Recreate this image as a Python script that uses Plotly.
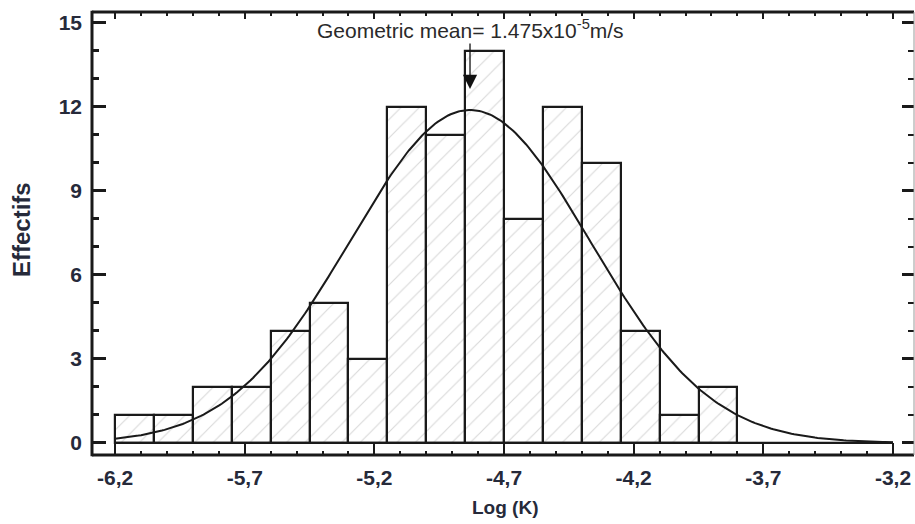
import numpy as np
import plotly.graph_objects as go

# ---- data ----
bin_start = -6.2
bin_width = 0.15
counts = [1, 1, 2, 2, 4, 5, 3, 12, 11, 14, 8, 12, 10, 4, 1, 2]

geo_mean_ms = 1.475e-5                 # geometric mean of K (m/s)
fit_mean = np.log10(geo_mean_ms)       # mean of log(K)
fit_sigma = 0.463
curve_start, curve_end = -6.2, -3.2

x_tickvals = [-6.2, -5.7, -5.2, -4.7, -4.2, -3.7, -3.2]
x_ticktext = ["-6,2", "-5,7", "-5,2", "-4,7", "-4,2", "-3,7", "-3,2"]
y_tickvals = [0, 3, 6, 9, 12, 15]

x_range = [-6.289, -3.119]
y_range = [-0.43, 15.39]

# ---- derived ----
bin_centers = [bin_start + bin_width * (i + 0.5) for i in range(len(counts))]
n_total = sum(counts)
xc = np.linspace(curve_start, curve_end, 300)
yc = n_total * bin_width / (fit_sigma * np.sqrt(2 * np.pi)) * np.exp(-0.5 * ((xc - fit_mean) / fit_sigma) ** 2)

ink = "#1a1a1a"
label_col = "#262a3a"
sans = "Liberation Sans, Arial, sans-serif"
tick_font = dict(family=sans, size=21, color=label_col, weight="bold")

fig = go.Figure()
fig.add_trace(go.Bar(
    x=bin_centers, y=counts, width=bin_width,
    marker=dict(color="white",
                line=dict(color=ink, width=2.2),
                pattern=dict(shape="/", fgcolor="#b4b4b4", bgcolor="white", size=13, solidity=0.09)),
    showlegend=False, hoverinfo="skip",
))
fig.add_trace(go.Scatter(
    x=xc, y=yc, mode="lines", line=dict(color=ink, width=2),
    showlegend=False, hoverinfo="skip",
))
# helper (invisible) trace for the mirrored top/right axes
fig.add_trace(go.Scatter(
    x=bin_centers, y=counts, xaxis="x2", yaxis="y2", mode="markers",
    marker=dict(opacity=0), showlegend=False, hoverinfo="skip",
))

fig.update_layout(
    width=915, height=524,
    margin=dict(l=92, r=1, t=12, b=69),
    paper_bgcolor="white", plot_bgcolor="white",
    bargap=0,
    xaxis=dict(range=x_range, showgrid=False, zeroline=False, showline=False,
               tickmode="array", tickvals=x_tickvals, ticktext=x_ticktext,
               ticks="inside", ticklen=12, tickwidth=2, tickcolor=ink,
               minor=dict(dtick=0.1, tick0=-6.2, ticks="inside", ticklen=4, tickwidth=2, tickcolor=ink),
               tickfont=tick_font, ticklabelstandoff=8),
    yaxis=dict(range=y_range, showgrid=False, zeroline=False, showline=False,
               tickmode="array", tickvals=y_tickvals,
               ticks="inside", ticklen=14, tickwidth=3, tickcolor=ink,
               minor=dict(dtick=1, tick0=0, ticks="inside", ticklen=7, tickwidth=2.5, tickcolor=ink),
               tickfont=tick_font, ticklabelstandoff=9),
    xaxis2=dict(overlaying="x", side="top", range=x_range, showgrid=False, zeroline=False,
                showline=False, showticklabels=False,
                tickmode="array", tickvals=x_tickvals,
                ticks="inside", ticklen=7, tickwidth=2, tickcolor=ink,
                minor=dict(dtick=0.1, tick0=-6.2, ticks="inside", ticklen=4, tickwidth=2, tickcolor=ink)),
    yaxis2=dict(overlaying="y", side="right", range=y_range, showgrid=False, zeroline=False,
                showline=False, showticklabels=False,
                tickmode="array", tickvals=y_tickvals,
                ticks="inside", ticklen=12, tickwidth=2.5, tickcolor=ink,
                minor=dict(dtick=1, tick0=0, ticks="inside", ticklen=6, tickwidth=2, tickcolor=ink)),
    shapes=[
        dict(type="line", xref="paper", yref="paper", x0=0, x1=0, y0=-0.003, y1=1.003, line=dict(color=ink, width=3)),
        dict(type="line", xref="paper", yref="paper", x0=0, x1=1, y0=0, y1=0, line=dict(color=ink, width=3)),
        dict(type="line", xref="paper", yref="paper", x0=0, x1=1, y0=1, y1=1, line=dict(color=ink, width=3)),
        dict(type="line", xref="paper", yref="paper", x0=1, x1=1, y0=0, y1=1, line=dict(color="#9a9a9a", width=1)),
        dict(type="line", xref="x", yref="y", x0=curve_start, x1=curve_end, y0=0, y1=0, line=dict(color=ink, width=2.2)),
    ],
    annotations=[
        dict(x=fit_mean, y=12.64, xref="x", yref="y", ax=0, ay=-60, axref="pixel", ayref="pixel",
             showarrow=True, arrowhead=2, arrowsize=2.2, arrowwidth=1.3, arrowcolor="#111", standoff=0,
             text="Geometric mean= 1.475x10<sup>-5</sup>m/s",
             font=dict(family=sans, size=21, color="#2a2a2a"),
             xanchor="center", yanchor="middle"),
        dict(x=-0.0864, y=0.51, xref="paper", yref="paper", text="<b>Effectifs</b>", textangle=-90,
             showarrow=False, font=dict(family=sans, size=24, color=label_col),
             xanchor="center", yanchor="middle"),
        dict(x=0.5024, y=-0.1174, xref="paper", yref="paper", text="<b>Log (K)</b>",
             showarrow=False, font=dict(family=sans, size=19, color=label_col),
             xanchor="center", yanchor="middle"),
    ],
)

fig.write_html("out.html")
